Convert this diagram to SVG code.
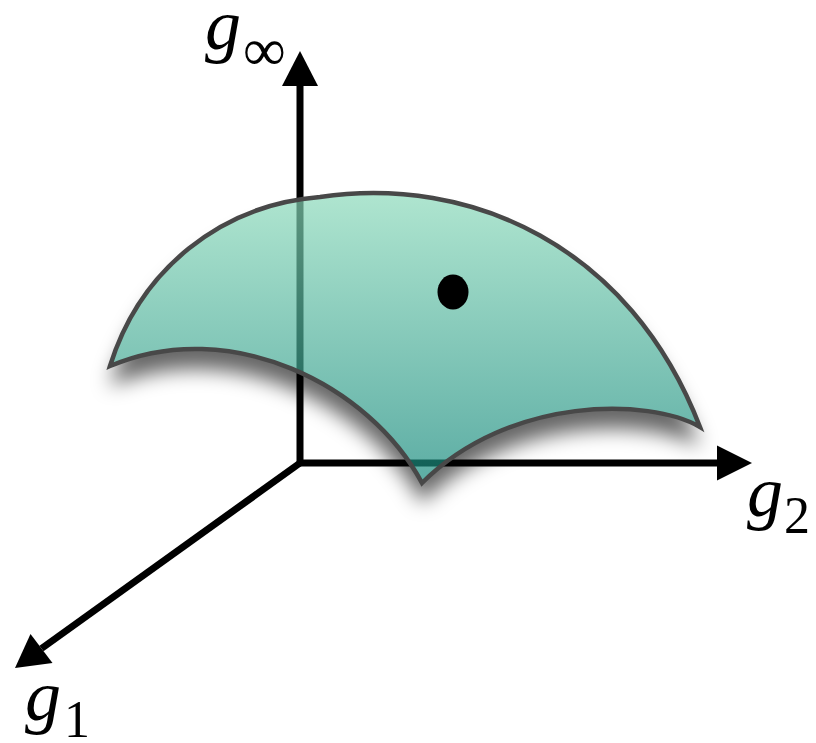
<svg xmlns="http://www.w3.org/2000/svg" width="816" height="743" viewBox="0 0 816 743">
<defs>
<style>
.axis{fill:none;stroke:#000;stroke-width:7;stroke-linejoin:miter}
.head{fill:#000;stroke:none}
.surf{fill:url(#grad);fill-opacity:0.69;stroke:#484848;stroke-width:4.5;stroke-linejoin:miter}
.lbl{font-family:"Liberation Serif","Times New Roman",serif;fill:#000}
</style>
<linearGradient id="grad" x1="0" y1="188" x2="0" y2="483" gradientUnits="userSpaceOnUse">
<stop offset="0" stop-color="#8ddbbb"/>
<stop offset="1" stop-color="#13887b"/>
</linearGradient>
<filter id="blur" x="-20%" y="-20%" width="140%" height="160%">
<feGaussianBlur stdDeviation="10"/>
</filter>
<path id="shape" d="M110,366 C140,270 220,205 320,197 C470,175 630,245 700,427 C650,398 510,395 422,483 C370,385 230,315 110,366 Z"/>
<mask id="outside" maskUnits="userSpaceOnUse" x="0" y="0" width="816" height="743">
<rect x="0" y="0" width="816" height="743" fill="#fff"/>
<use href="#shape" fill="#000"/>
</mask>
</defs>
<rect width="816" height="743" fill="#fff"/>
<g id="shadow" mask="url(#outside)">
<use href="#shape" transform="translate(0,20)" fill="#000" fill-opacity="0.6" filter="url(#blur)"/>
</g>
<g id="connectors">
<path class="axis" d="M300,86 L300,463 L717,463"/>
<path class="axis" d="M300,463 L41.5,648.5"/>
<polygon class="head" points="300,51 282,86 318,86"/>
<polygon class="head" points="752,463 717,445.5 717,480.5"/>
<polygon class="head" points="15,668 30.5,634 52.5,663"/>
</g>
<g id="surface">
<use href="#shape" class="surf"/>
</g>
<g id="point">
<ellipse cx="453" cy="292" rx="15.5" ry="17.5" fill="#000"/>
</g>
<g id="label-ginf" class="lbl">
<text x="205" y="49" font-size="72" font-style="italic">g</text>
<text x="243" y="70" font-size="60">∞</text>
</g>
<g id="label-g2" class="lbl">
<text x="747" y="516" font-size="72" font-style="italic">g</text>
<text x="784" y="533" font-size="52">2</text>
</g>
<g id="label-g1" class="lbl">
<text x="25" y="720" font-size="72" font-style="italic">g</text>
<text x="64" y="737" font-size="52">1</text>
</g>
</svg>
